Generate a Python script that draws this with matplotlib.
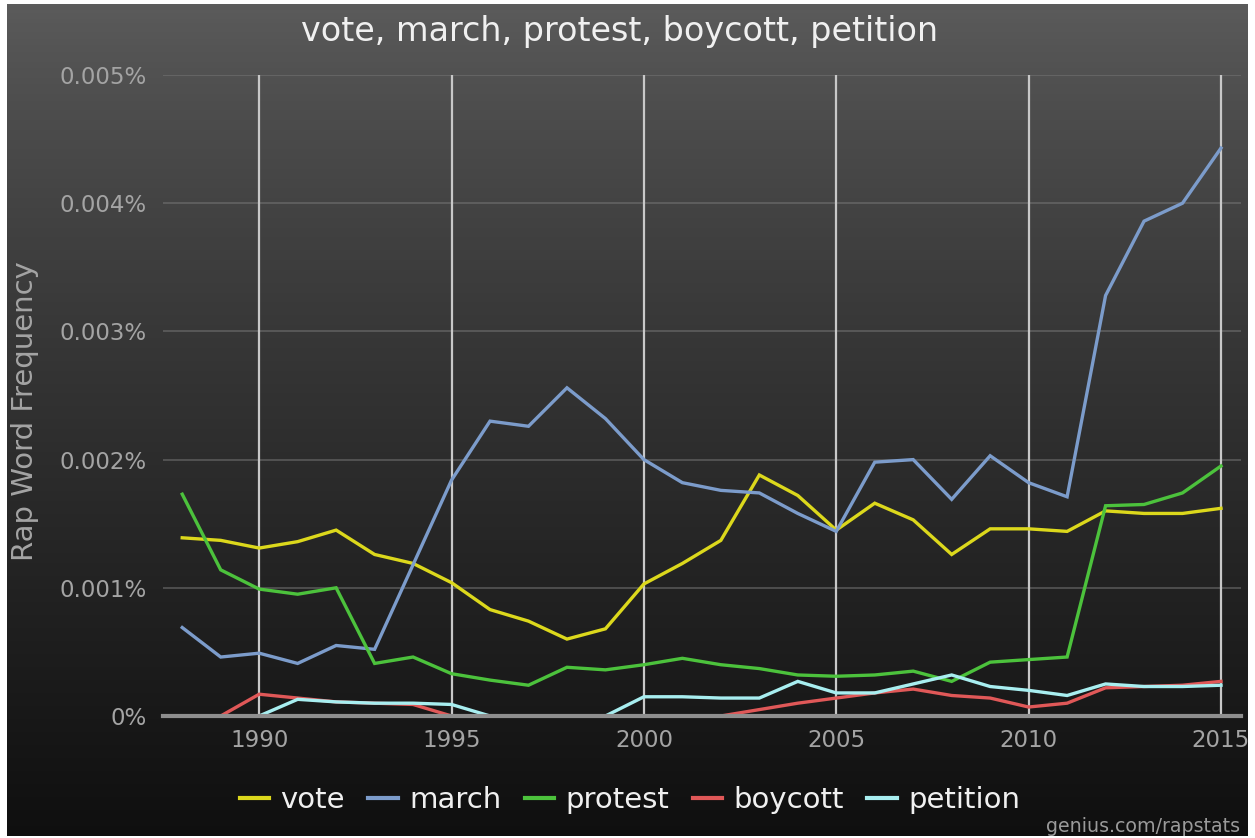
import numpy as np
import matplotlib.pyplot as plt
from matplotlib.ticker import FixedLocator, FuncFormatter

years = list(range(1988, 2016))

# word frequency in percent
vote = [0.00139, 0.00137, 0.00131, 0.00136, 0.00145, 0.00126, 0.00119, 0.00104,
        0.00083, 0.00074, 0.00060, 0.00068, 0.00103, 0.00119, 0.00137, 0.00188,
        0.00172, 0.00145, 0.00166, 0.00153, 0.00126, 0.00146, 0.00146, 0.00144,
        0.00160, 0.00158, 0.00158, 0.00162]
march = [0.00069, 0.00046, 0.00049, 0.00041, 0.00055, 0.00052, 0.00118, 0.00184,
         0.00230, 0.00226, 0.00256, 0.00232, 0.00200, 0.00182, 0.00176, 0.00174,
         0.00158, 0.00144, 0.00198, 0.00200, 0.00169, 0.00203, 0.00182, 0.00171,
         0.00328, 0.00386, 0.00400, 0.00443]
protest = [0.00173, 0.00114, 0.00099, 0.00095, 0.00100, 0.00041, 0.00046, 0.00033,
           0.00028, 0.00024, 0.00038, 0.00036, 0.00040, 0.00045, 0.00040, 0.00037,
           0.00032, 0.00031, 0.00032, 0.00035, 0.00027, 0.00042, 0.00044, 0.00046,
           0.00164, 0.00165, 0.00174, 0.00195]
boycott = [0.0, 0.0, 0.00017, 0.00014, 0.00011, 0.00010, 0.00009, 0.0,
           0.0, 0.0, 0.0, 0.0, 0.0, 0.0, 0.0, 0.00005,
           0.00010, 0.00014, 0.00018, 0.00021, 0.00016, 0.00014, 0.00007, 0.00010,
           0.00022, 0.00023, 0.00024, 0.00027]
petition = [0.0, 0.0, 0.0, 0.00013, 0.00011, 0.00010, 0.00010, 0.00009,
            0.0, 0.0, 0.0, 0.0, 0.00015, 0.00015, 0.00014, 0.00014,
            0.00027, 0.00018, 0.00018, 0.00025, 0.00032, 0.00023, 0.00020, 0.00016,
            0.00025, 0.00023, 0.00023, 0.00024]

names = ['vote', 'march', 'protest', 'boycott', 'petition']
series = [vote, march, protest, boycott, petition]
colors = ['#dcd81c', '#7c9ccb', '#4cc23c', '#e05858', '#a8eef0']

yticks = [0, 0.001, 0.002, 0.003, 0.004, 0.005]
xticks = [1990, 1995, 2000, 2005, 2010, 2015]

W, H = 1255, 838
fig = plt.figure(figsize=(W / 100, H / 100), dpi=100)
fig.patch.set_facecolor('white')

def box(x0, y0, x1, y1):
    # pixel box (top-left origin) -> figure fraction
    return [x0 / W, 1 - y1 / H, (x1 - x0) / W, (y1 - y0) / H]

# dark gradient panel
bg = fig.add_axes(box(7, 4, 1248, 836))
grad = np.linspace(0, 1, 256).reshape(-1, 1)
top, bottom = np.array([0.36, 0.36, 0.36]), np.array([0.06, 0.06, 0.06])
img = top + (bottom - top) * (grad ** 0.8)[:, :, None]
bg.imshow(img, aspect='auto', extent=[0, 1, 0, 1])
bg.set_axis_off()

ax = fig.add_axes(box(163, 75, 1241, 716))
ax.set_facecolor('none')
for sp in ax.spines.values():
    sp.set_visible(False)

ax.set_xlim(1987.5, 2015.52)
ax.set_ylim(0, 0.005)

for yv in yticks[1:]:
    ax.axhline(yv, color='#777777', lw=1.2, alpha=0.6, zorder=1)
for xv in xticks:
    ax.axvline(xv, color='#c8c8c8', lw=1.6, zorder=1)

for name, vals, c in zip(names, series, colors):
    ax.plot(years, vals, color=c, lw=2.4, label=name, zorder=3,
            solid_joinstyle='miter', clip_on=False)

ax.axhline(0, color='#8e8e8e', lw=3, zorder=5, clip_on=False)

ax.yaxis.set_major_locator(FixedLocator(yticks))
ax.yaxis.set_major_formatter(FuncFormatter(lambda v, p: '0%' if v == 0 else f'{v:.3f}%'))
ax.xaxis.set_major_locator(FixedLocator(xticks))
ax.tick_params(axis='both', length=0, colors='#a4a4a4', labelsize=16.5)
ax.tick_params(axis='y', pad=12)
ax.tick_params(axis='x', pad=9)

fig.text(25 / W, 1 - 411 / H, 'Rap Word Frequency', rotation=90, ha='center',
         va='center', color='#a4a4a4', fontsize=21)

fig.text(620 / W, 1 - 31 / H, 'vote, march, protest, boycott, petition',
         ha='center', va='center', color='#f0f0f0', fontsize=24)

leg = ax.legend(loc='center', bbox_to_anchor=(630 / W, 1 - 800 / H),
                bbox_transform=fig.transFigure, ncol=5, frameon=False,
                fontsize=21, handlelength=1.0, handletextpad=0.4,
                columnspacing=0.8)
for t in leg.get_texts():
    t.set_color('#f0f0f0')
for h in leg.get_lines():
    h.set_linewidth(3)

fig.text(1240 / W, 1 - 826 / H, 'genius.com/rapstats', ha='right',
         va='center', color='#9a9a9a', fontsize=13.7)

fig.savefig('out.png', dpi=100, facecolor=fig.get_facecolor())
